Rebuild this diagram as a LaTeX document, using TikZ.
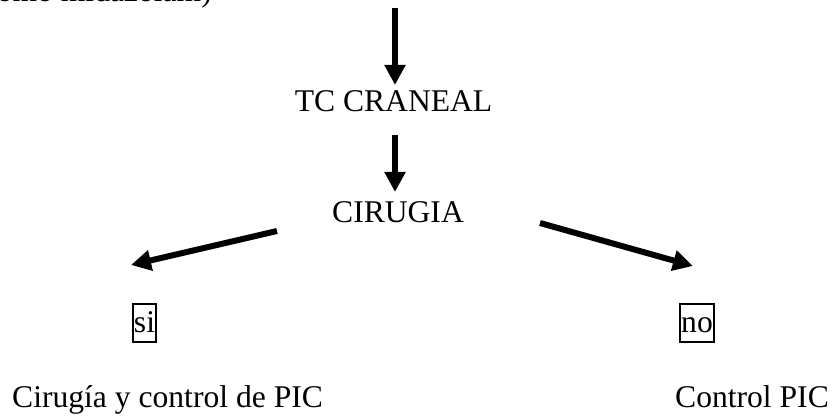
\documentclass[tikz,border=0pt]{standalone}
\usepackage{fontspec}
\setmainfont{Liberation Serif}
\usetikzlibrary{arrows.meta}
\begin{document}
\begin{tikzpicture}[x=1pt,y=-1pt,
  txt/.style={inner sep=0pt,anchor=base,font=\fontsize{31.6}{38}\selectfont},
  answer/.style={txt,draw,line width=2pt,inner xsep=1pt,inner ysep=0pt,
    text height=29pt,text depth=9pt},
  flow/.style={line width=6pt,-{Triangle[length=20pt,width=20pt]}}]
\useasboundingbox (0,0) rectangle (833,419);
% partly cut-off text at the top edge
\node[txt,anchor=base east] (prev) at (212,2) {como midazolam)};
\coordinate (start) at (395,8);
\node[txt] (tc) at (393.5,112) {TC CRANEAL};
\node[txt] (cir) at (398,223) {CIRUGIA};
\node[answer] (si) at (144.5,333) {si};
\node[answer] (no) at (697,333) {no};
\node[txt,anchor=base west] (siout) at (12,408) {Cirugía y control de PIC};
\node[txt,anchor=base west] (noout) at (675,408) {Control PIC};
% connectors
\coordinate (a1) at (395,85);
\coordinate (b0) at (395,135);
\coordinate (b1) at (395,192);
\coordinate (l0) at (277,231);
\coordinate (l1) at (131,265);
\coordinate (r0) at (540,223);
\coordinate (r1) at (693,266);
\draw[flow] (start) -- (a1);
\draw[flow] (b0) -- (b1);
\draw[flow] (l0) -- (l1);
\draw[flow] (r0) -- (r1);
\end{tikzpicture}
\end{document}
